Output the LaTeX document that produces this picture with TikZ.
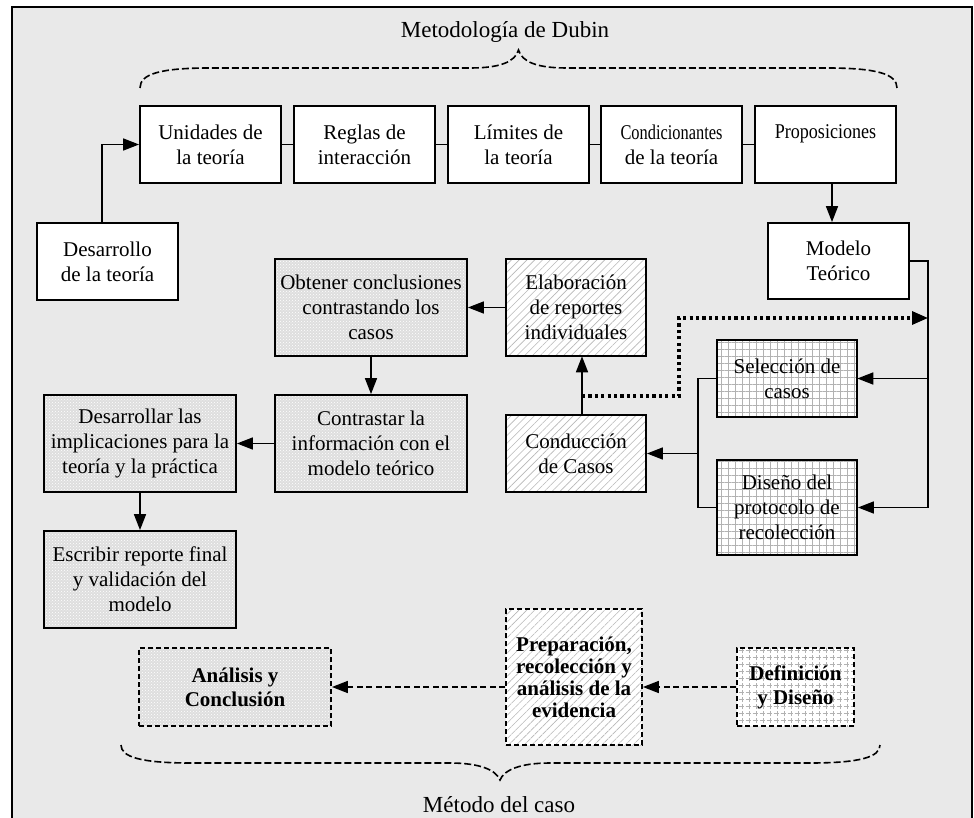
\documentclass[tikz,border=0pt]{standalone}
\usepackage{fontspec}
\usepackage{graphicx}
\setmainfont{Liberation Serif}
\usetikzlibrary{arrows.meta,patterns,patterns.meta}
\definecolor{bg}{RGB}{233,233,233}
\definecolor{speck}{RGB}{222,222,222}
\tikzset{
  x=1pt,y=-1pt,
  box/.style={draw,line width=1.8pt,fill=white,inner sep=0pt,align=center,
    font=\fontsize{21}{25}\selectfont},
  dotbox/.style={box,preaction={fill=speck},pattern=crosshatch dots,pattern color=white},
  hatchbox/.style={box,preaction={fill=white},pattern={Lines[angle=45,distance=5.5pt,line width=0.6pt]},pattern color=black!28},
  gridbox/.style={box,preaction={fill=white},pattern={Hatch[angle=0,distance=7pt,line width=0.6pt]},pattern color=black!30},
  dashbox/.style={dash pattern=on 5pt off 3pt,font=\fontsize{21}{24}\selectfont\bfseries},
  conn/.style={line width=1.6pt},
  arr/.style={conn,-{Triangle[length=16pt,width=12pt]}},
  darr/.style={arr,dash pattern=on 6pt off 3.5pt},
  dotline/.style={line width=3.2pt,dash pattern=on 3.2pt off 3.2pt,-{Triangle[length=16pt,width=13pt]}},
  brace/.style={line width=1.6pt,dash pattern=on 7pt off 3pt},
  title/.style={font=\fontsize{23}{26}\selectfont,inner sep=0pt,anchor=base}
}
\begin{document}
\begin{tikzpicture}
\useasboundingbox (0,0) rectangle (974,818);
\draw[line width=2.4pt,fill=bg] (12,7) rectangle (972,840);

% titles and braces
\node[title] (t1) at (505,38) {Metodología de Dubin};
\node[title] (t2) at (499,812) {Método del caso};
\draw[brace] (140,88) .. controls (140,74) and (160,68) .. (210,68) -- (470,68)
  .. controls (500,68) and (515,62) .. (518.5,50)
  .. controls (522,62) and (537,68) .. (567,68) -- (827,68)
  .. controls (877,68) and (897,74) .. (897,88);
\draw[brace] (121,745) .. controls (121,757) and (141,763) .. (191,763) -- (450,763)
  .. controls (480,763) and (496,770) .. (500,780)
  .. controls (504,770) and (520,763) .. (550,763) -- (810,763)
  .. controls (860,763) and (880,757) .. (880,745);

% top row
\node[box,minimum width=141pt,minimum height=77pt] (u) at (210.5,144.5) {Unidades de\\la teoría};
\node[box,minimum width=141pt,minimum height=77pt] (r) at (364.5,144.5) {Reglas de\\interacción};
\node[box,minimum width=141pt,minimum height=77pt] (l) at (518.5,144.5) {Límites de\\la teoría};
\node[box,minimum width=141pt,minimum height=77pt] (c) at (671.5,144.5) {\scalebox{0.78}[1]{Condicionantes}\\de la teoría};
\node[box,minimum width=141pt,minimum height=77pt] (p) at (825.5,144.5) {\scalebox{0.86}[1]{Proposiciones}\\~};
\node[box,minimum width=141pt,minimum height=77pt] (d) at (107.5,261.5) {Desarrollo\\de la teoría};
\node[box,minimum width=141pt,minimum height=76pt] (m) at (838.5,261) {Modelo\\Teórico};

% middle
\node[dotbox,minimum width=192pt,minimum height=97pt] (o) at (371,307.5) {Obtener conclusiones\\contrastando los\\casos};
\node[hatchbox,minimum width=140pt,minimum height=97pt] (e) at (576,307.5) {Elaboración\\de reportes\\individuales};
\node[dotbox,minimum width=192pt,minimum height=97pt] (k) at (371,443.5) {Contrastar la\\información con el\\modelo teórico};
\node[dotbox,minimum width=192pt,minimum height=97pt] (dv) at (140,443.5) {Desarrollar las\\implicaciones para la\\teoría y la práctica};
\node[dotbox,minimum width=192pt,minimum height=97pt] (w) at (140,579.5) {Escribir reporte final\\y validación del\\modelo};
\node[hatchbox,minimum width=140pt,minimum height=77pt] (cc) at (576,453.5) {Conducción\\de Casos};
\node[gridbox,minimum width=140pt,minimum height=77pt] (s) at (787,378.5) {Selección de\\casos};
\node[gridbox,minimum width=140pt,minimum height=95pt] (ds) at (787,507.5) {Diseño del\\protocolo de\\recolección};

% bottom row
\node[dotbox,dashbox,minimum width=192pt,minimum height=78pt] (an) at (235,687) {Análisis y\\Conclusión};
\node[hatchbox,dashbox,font=\fontsize{21}{22}\selectfont\bfseries,minimum width=136pt,minimum height=136pt] (pr) at (574,677) {Preparación,\\recolección y\\análisis de la\\evidencia};
\node[gridbox,dashbox,minimum width=117pt,minimum height=78pt] (df) at (795.5,687) {Definición\\y Diseño};

% connectors top
\draw[arr] ([xshift=-5.5pt]d.north) |- (u.west);
\draw[conn] (u.east) -- (r.west);
\draw[conn] (r.east) -- (l.west);
\draw[conn] (l.east) -- (c.west);
\draw[conn] (c.east) -- (p.west);
\draw[arr] ([xshift=6.5pt]p.south) -- ([xshift=-6.5pt]m.north);

% right bus
\coordinate (bus) at (928,261);
\coordinate (busb) at (928,507.5);
\coordinate (dotend) at (928,318);
\draw[conn] (m.east) -- (bus) -- (busb);
\draw[arr] (bus |- s.east) -- (s.east);
\draw[arr] (busb) -- (ds.east);

% left bus
\coordinate (lbt) at (698,378.5);
\coordinate (lbb) at (698,507.5);
\draw[conn] (s.west) -- (lbt) -- (lbb) -- (ds.west);
\draw[arr] (lbt |- cc.east) -- (cc.east);

% middle flow
\draw[arr] ([xshift=6pt]cc.north) -- ([xshift=6pt]e.south);
\draw[arr] (e.west) -- (o.east);
\draw[arr] (o.south) -- (k.north);
\draw[arr] (k.west) -- (dv.east);
\draw[arr] (dv.south) -- (w.north);

% dotted feedback
\coordinate (dt1) at (582,396);
\coordinate (dt2) at (679,396);
\coordinate (dt3) at (679,318);
\draw[dotline] (dt1) -- (dt2) -- (dt3) -- (dotend);

% bottom flow
\draw[darr] (df.west) -- (df.west -| pr.east);
\draw[darr] (df.west -| pr.west) -- (an.east);
\end{tikzpicture}
\end{document}
